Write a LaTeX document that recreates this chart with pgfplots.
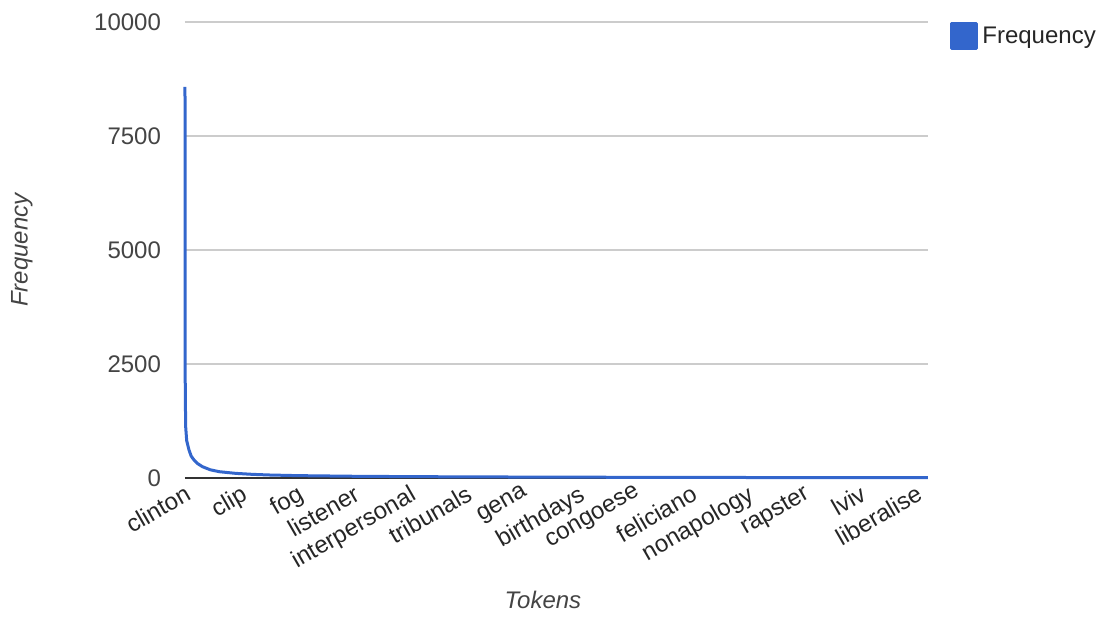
\documentclass[border=0pt]{standalone}
\usepackage{fontspec}
\setmainfont{Liberation Sans}
\usepackage{pgfplots}
\pgfplotsset{compat=1.18}
\definecolor{gblue}{HTML}{3366CC}
\definecolor{gtext}{HTML}{444444}
\definecolor{ggrid}{HTML}{CCCCCC}

\begin{document}
\begin{tikzpicture}
% fixed page: 1110x617 px at 0.5pt per px, plot box at (185,22)-(928,478)
\path[use as bounding box] (-92.5pt,-69.5pt) rectangle (462.5pt,239pt);
\begin{axis}[
    scale only axis,
    width=371.5pt, height=228pt,
    xmin=0, xmax=13.2,
    ymin=0, ymax=10000,
    axis line style={draw=none},
    tick style={draw=none},
    scaled y ticks=false,
    ytick={0,2500,5000,7500,10000},
    yticklabels={0,2500,5000,7500,10000},
    ymajorgrids=true,
    grid style={ggrid, line width=0.6pt},
    extra y ticks={0},
    extra y tick labels={},
    extra y tick style={grid style={black!80, line width=0.7pt}},
    xtick={0,1,...,13},
    xticklabels={clinton,clip,fog,listener,interpersonal,tribunals,gena,birthdays,congoese,feliciano,nonapology,rapster,lviv,liberalise},
    x tick label style={rotate=30, anchor=north east, font=\fontsize{12}{14}\selectfont, text=black!85, inner sep=2pt},
    y tick label style={font=\fontsize{12}{14}\selectfont, text=gtext, xshift=-8.5pt},
    ylabel={\itshape Frequency},
    xlabel={\itshape Tokens},
    ylabel style={at={(axis description cs:-0.2194,0.5)}, anchor=center, rotate=0, font=\fontsize{12}{14}\selectfont, text=gtext},
    xlabel style={at={(axis description cs:0.4818,-0.2675)}, anchor=center, font=\fontsize{12}{14}\selectfont, text=gtext},
    legend style={draw=none, fill=none, at={(axis description cs:1.0296,1)}, anchor=north west,
        font=\fontsize{12}{14}\selectfont, text=black!85, inner sep=0pt,
        legend cell align=left},
    legend image code/.code={\fill[gblue] (0pt,-6.25pt) rectangle (12.5pt,6.25pt);},
    clip=false,
]
\addplot[gblue, line width=1.5pt, line join=round] coordinates {
(0,8575) (0.002,3000) (0.005,1900) (0.012,1125) (0.03,820) (0.071,614)
(0.11,480) (0.16,395) (0.22,320) (0.31,248) (0.45,180) (0.61,138)
(0.9,102) (1.2,80) (1.5,66) (2,52) (3,38) (4,30) (5,25) (6,21)
(7,18) (8,15) (9,13) (10,11) (11,10) (12,9) (13.2,8)
};
\addlegendentry{Frequency}
\end{axis}
\end{tikzpicture}
\end{document}
